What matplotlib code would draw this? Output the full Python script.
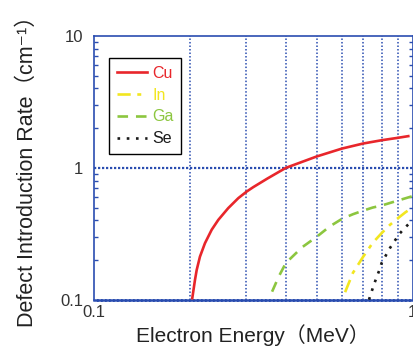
import matplotlib
matplotlib.use("Agg")
import matplotlib.pyplot as plt
from matplotlib.ticker import LogLocator, NullFormatter, FixedLocator, FixedFormatter

plt.rcParams['font.family'] = ['Liberation Sans', 'Noto Sans CJK JP', 'DejaVu Sans']

# Data
cu_x = [0.2032, 0.2072, 0.2098, 0.2148, 0.2227, 0.2338, 0.2453, 0.2636, 0.2835, 0.3012,
        0.3159, 0.35, 0.4, 0.5, 0.6, 0.7, 0.8, 0.9, 0.97]
cu_y = [0.1026, 0.141, 0.168, 0.212, 0.268, 0.339, 0.403, 0.495, 0.589, 0.661,
        0.714, 0.83, 1.0, 1.22, 1.40, 1.53, 1.62, 1.69, 1.74]

in_x = [0.614, 0.65, 0.7, 0.75, 0.8, 0.85, 0.9, 0.95, 1.0]
in_y = [0.114, 0.16, 0.212, 0.27, 0.32, 0.37, 0.415, 0.46, 0.50]

ga_x = [0.362, 0.38, 0.4, 0.45, 0.5, 0.55, 0.6, 0.65, 0.7, 0.75, 0.8, 0.9, 1.0]
ga_y = [0.115, 0.15, 0.19, 0.25, 0.30, 0.36, 0.41, 0.445, 0.474, 0.50, 0.518, 0.565, 0.61]

se_x = [0.73, 0.757, 0.787, 0.8, 0.849, 0.908, 0.947, 1.0]
se_y = [0.10, 0.131, 0.168, 0.19, 0.246, 0.314, 0.352, 0.40]

labels = ['Cu', 'In', 'Ga', 'Se']
colors = ['#e8262b', '#f2e620', '#8cc63f', '#1a1a1a']

x_ticks = [0.1, 1]
x_ticklabels = ['0.1', '1']
y_ticks = [0.1, 1, 10]
y_ticklabels = ['0.1', '1', '10']

grid_blue = '#2a4db0'

fig = plt.figure(figsize=(4.13, 3.49), dpi=100)
ax = fig.add_axes([0.2283, 0.1413, 0.7705, 0.7555])
ax.set_xscale('log')
ax.set_yscale('log')
ax.set_xlim(0.1, 1)
ax.set_ylim(0.1, 10)

# grid
for gx in [0.2, 0.3, 0.4, 0.5, 0.6, 0.7, 0.8, 0.9]:
    ax.axvline(gx, color=grid_blue, lw=1.1, ls=(0, (1, 1.3)), zorder=1)
ax.axhline(1, color=grid_blue, lw=1.6, ls=(0, (1, 0.8)), zorder=1)

lw = 1.9
ax.plot(cu_x, cu_y, color=colors[0], lw=lw, ls='-', label=labels[0], zorder=3)
ax.plot(in_x, in_y, color=colors[1], lw=lw, ls=(0, (5, 2.5, 1.5, 2.5)), label=labels[1], zorder=3)
ax.plot(ga_x, ga_y, color=colors[2], lw=lw, ls=(0, (4, 3)), label=labels[2], zorder=3)
ax.plot(se_x, se_y, color=colors[3], lw=lw, ls=(0, (1, 2.5)), label=labels[3], zorder=3)

# spines
for s in ['top', 'right']:
    ax.spines[s].set_color(grid_blue)
    ax.spines[s].set_linewidth(1.2)
ax.spines['left'].set_color(grid_blue)
ax.spines['left'].set_linestyle((0, (1, 1)))
ax.spines['left'].set_linewidth(1.2)
ax.spines['bottom'].set_color(grid_blue)
ax.spines['bottom'].set_linestyle((0, (1, 0.6)))
ax.spines['bottom'].set_linewidth(1.8)

# ticks
ax.xaxis.set_major_locator(FixedLocator(x_ticks))
ax.xaxis.set_major_formatter(FixedFormatter(x_ticklabels))
ax.xaxis.set_minor_locator(FixedLocator([]))
ax.yaxis.set_major_locator(FixedLocator(y_ticks))
ax.yaxis.set_major_formatter(FixedFormatter(y_ticklabels))
ax.yaxis.set_minor_locator(LogLocator(base=10, subs=range(2, 10)))
ax.yaxis.set_minor_formatter(NullFormatter())
ax.tick_params(axis='x', which='both', length=0, labelsize=12, pad=4, colors='#333333')
ax.tick_params(axis='y', which='major', length=0, labelsize=12, pad=8, colors='#333333')
ax.tick_params(axis='y', which='minor', direction='in', length=3, width=1.0,
               color=grid_blue, left=True, right=True)

ax.set_xlabel('Electron Energy（MeV）', fontsize=15, color='#222222')
ax.xaxis.set_label_coords(0.4986, -0.134)
ax.xaxis.label.set_va('center')
ax.set_ylabel('Defect Introduction Rate（cm⁻¹）', fontsize=15.5, color='#222222')
ax.yaxis.set_label_coords(-0.21, 0.505)
ax.yaxis.label.set_va('center')

leg = ax.legend(loc='upper left', bbox_to_anchor=(0.046, 0.9166), borderaxespad=0,
                fancybox=False, edgecolor='black', framealpha=1, fontsize=11.5,
                labelcolor='linecolor', handlelength=1.9, handletextpad=0.3,
                labelspacing=0.42, borderpad=0.5)
leg.get_frame().set_linewidth(1.0)

fig.savefig('out.png', dpi=100)
